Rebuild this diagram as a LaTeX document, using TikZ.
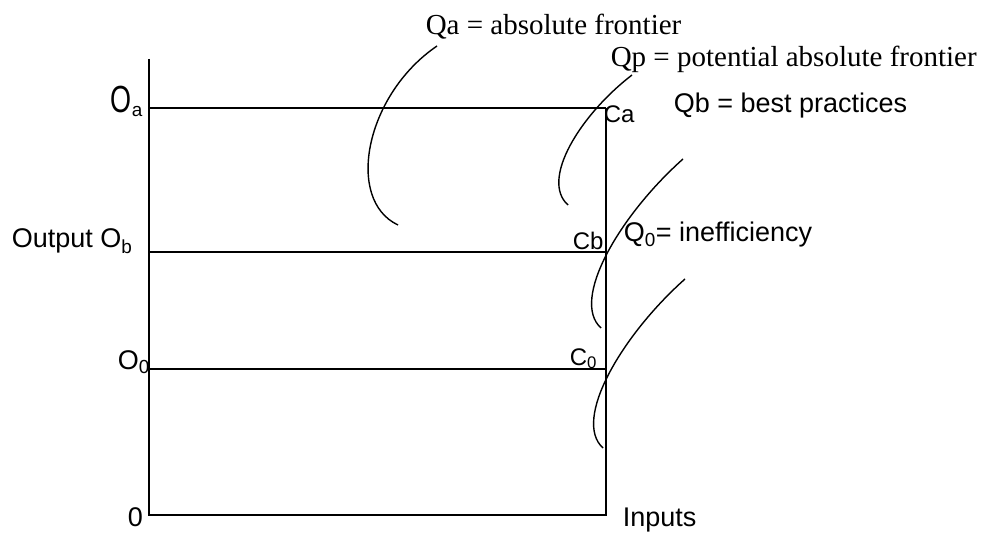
\documentclass[tikz,border=0pt]{standalone}
\usepackage{fontspec}
\setmainfont{Liberation Sans}
\newfontfamily\frontierfont{Liberation Serif}
\begin{document}
\begin{tikzpicture}[x=1pt, y=-1pt, line width=1.6pt,
  every node/.style={inner sep=0pt, anchor=base west, font=\fontsize{27}{32}\selectfont},
  pt/.style={font=\fontsize{24}{28}\selectfont},
  ser/.style={font=\fontsize{29}{34}\selectfont\frontierfont},
  iso/.style={line width=1.4pt}]
\useasboundingbox (0,0) rectangle (981,534);
% axes and output levels
\coordinate (top) at (149,59);
\coordinate (orig) at (149,515);
\coordinate (inp) at (606,515);
\coordinate (Oa) at (149,108);
\coordinate (Ob) at (149,252);
\coordinate (O0) at (149,369);
\coordinate (Ca) at (606,108);
\coordinate (Cb) at (606,252);
\coordinate (C0) at (606,369);
\draw (top) -- (orig) -- (inp) -- (Ca);
\draw (Oa) -- (Ca);
\draw (Ob) -- (Cb);
\draw (O0) -- (C0);
% isoquants
\draw[iso] (437,46) .. controls (365,95) and (345,200) .. (398,225);
\draw[iso] (632,75) .. controls (580,115) and (540,180) .. (568,205);
\draw[iso] (683,159) .. controls (620,215) and (570,300) .. (601,328);
\draw[iso] (685,279) .. controls (622,335) and (572,420) .. (603,448);
% labels
\node[ser] (qa) at (425,35) {Qa = absolute frontier};
\node[ser] (qp) at (610,67) {Qp = potential absolute frontier};
\node (qb) at (673,113) {Qb = best practices};
\node (q0) at (623,242) {Q\textsubscript{0}= inefficiency};
\node[pt] (ca) at (603,123) {Ca};
\node[pt] (cb) at (572,250) {Cb};
\node[pt] (c0) at (569,365) {C\textsubscript{0}};
\node (oa) at (110,113) {\scalebox{1}[1.4]{O}\textsubscript{a}};
\node (ob) at (11,248) {Output O\textsubscript{b}};
\node (o0) at (117,369) {O\textsubscript{0}};
\node (zero) at (127,526) {0};
\node (inputs) at (622,526) {Inputs};
\end{tikzpicture}
\end{document}
